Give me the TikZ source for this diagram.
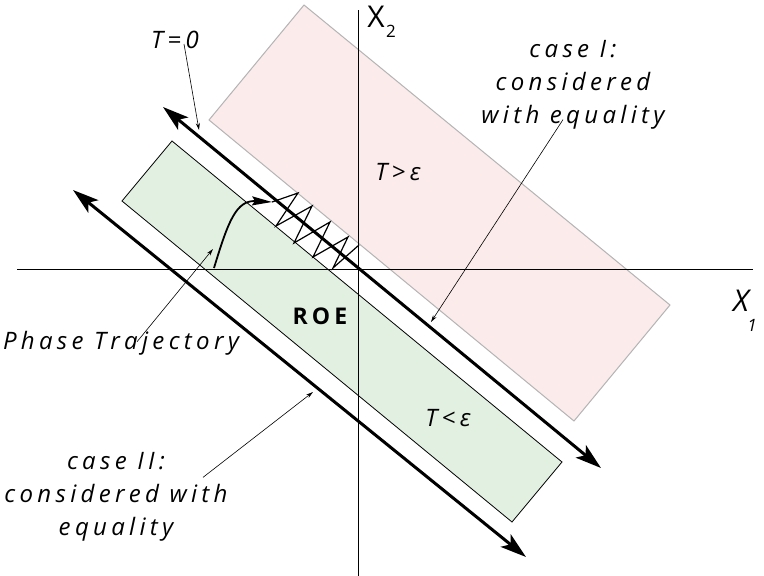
\documentclass[tikz,border=0pt]{standalone}
\usepackage{fontspec}
\setmainfont{Open Sans}
\newfontfamily\lblfont[LetterSpace=18]{Open Sans}
\usetikzlibrary{arrows.meta}
\definecolor{pinkfill}{HTML}{FBEBEB}
\definecolor{pinkedge}{HTML}{B4B4B4}
\definecolor{greenfill}{HTML}{E2F0E2}
\tikzset{
  lbl/.style={inner sep=0pt, align=center, font=\lblfont\itshape\fontsize{24}{33}\selectfont},
  axislbl/.style={inner sep=0pt, font=\fontsize{30}{30}\selectfont},
  thickarrow/.style={line width=3pt, {Stealth[length=26pt,width=16pt,inset=6pt]}-{Stealth[length=26pt,width=16pt,inset=6pt]}},
  pointer/.style={line width=0.6pt, -{Stealth[length=7pt,width=4pt]}},
  axisline/.style={line width=1pt},
  zig/.style={line width=1.2pt, line join=miter},
}
\begin{document}
\begin{tikzpicture}[x=1pt,y=-1pt]
\useasboundingbox (0,0) rectangle (764,576);
% regions
\fill[pinkfill, draw=pinkedge, line width=1pt] (304,5) -- (670,305) -- (574,421) -- (209,120) -- cycle;
\fill[greenfill, draw=black, line width=0.8pt] (172,141) -- (562,462) -- (512,522) -- (122,201) -- cycle;
% axes
\coordinate (xl) at (17,269);
\coordinate (xr) at (753,269);
\coordinate (yt) at (358,10);
\coordinate (yb) at (358,576);
\draw[axisline] (xl) -- (xr);
\draw[axisline] (yt) -- (yb);
% thick boundary arrows
\coordinate (a1s) at (163,107);
\coordinate (a1e) at (601,468);
\coordinate (a2s) at (73,190);
\coordinate (a2e) at (526,557);
\draw[thickarrow] (a1s) -- (a1e);
\draw[thickarrow] (a2s) -- (a2e);
% phase trajectory
\coordinate (p0) at (214,268);
\coordinate (p1) at (272,202);
\draw[line width=1.8pt, -{Stealth[length=20pt,width=9pt,inset=3pt]}] (p0) .. controls (228,222) and (236,200) .. (p1);
% zigzag (chattering)
\draw[zig] (p1) -- (298,193) -- (276,226) -- (312,206) -- (294,243) -- (330,222) -- (313,257) -- (348,237) -- (333,268) -- (359,245);
% labels
\node[lbl] (t0) at (175,40) {T=0};
\node[lbl] (c1) at (573,85) {case I:\\considered\\with equality};
\node[lbl] (tg) at (398,172) {T>ε};
\node[inner sep=0pt, font=\lblfont\bfseries\fontsize{23}{23}\selectfont] (roe) at (320,316) {ROE};
\node[lbl] (tl) at (448,418) {T<ε};
\node[lbl] (pt) at (121,343) {Phase Trajectory};
\node[lbl] (c2) at (116,497) {case II:\\considered with\\equality};
\node[axislbl] (x2) at (376,17) {X};
\node[inner sep=0pt, font=\fontsize{17}{17}\selectfont] (x2s) at (391,31) {2};
\node[axislbl, font=\itshape\fontsize{30}{30}\selectfont] (x1) at (741,301) {X};
\node[inner sep=0pt, font=\itshape\fontsize{17}{17}\selectfont] (x1s) at (752,325) {1};
% pointers
\coordinate (t0tip) at (199,130);
\coordinate (c1tip) at (431,322);
\coordinate (pttip) at (213,249);
\coordinate (c2tip) at (313,392);
\draw[pointer] ([xshift=9pt,yshift=5pt]t0.south) -- (t0tip);
\draw[pointer] ([xshift=-10pt,yshift=10pt]c1.south) -- (c1tip);
\draw[pointer] ([xshift=16pt,yshift=-11pt]pt.north) -- (pttip);
\draw[pointer] ([xshift=87pt,yshift=-25pt]c2.north) -- (c2tip);
\end{tikzpicture}
\end{document}
